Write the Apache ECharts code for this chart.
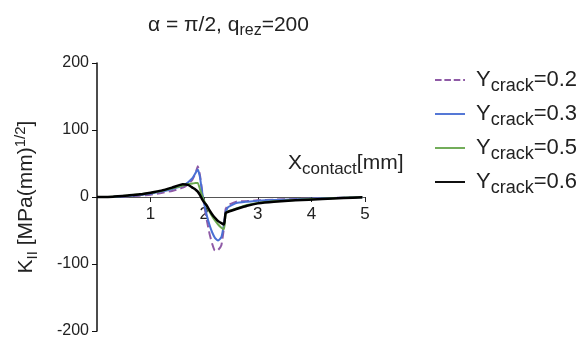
<!DOCTYPE html>
<html><head><meta charset="utf-8">
<script src="https://cdn.jsdelivr.net/npm/echarts@6/dist/echarts.min.js"></script>
<style>html,body{margin:0;padding:0;background:#fff}#c{width:584px;height:342px}</style>
</head><body><div id="c"></div>
<script>
const xs  = [0, 0.3, 0.6, 0.8, 1.0, 1.2, 1.4, 1.6, 1.7, 1.78, 1.84, 1.88, 1.92, 1.96, 2.0, 2.05, 2.1, 2.15, 2.2, 2.26, 2.32, 2.37, 2.4, 2.45, 2.6, 2.8, 3.0, 3.3, 3.7, 4.2, 4.6, 4.95];
const y02 = [0, 0.2, 1, 2, 3.5, 6, 9, 14, 19, 26, 36, 46, 33, 10, -12, -35, -55, -70, -80, -79, -72, -45, -18, -12, -7, -6, -5, -4, -3, -2, -1, -0.3];
const y03 = [0, 0.3, 1.5, 3, 5, 8, 12, 17, 22, 28, 36, 41, 30, 8, -10, -28, -42, -53, -61, -65, -60, -40, -22, -15, -9, -7, -5.5, -4.5, -3.5, -2, -1, -0.3];
const y05 = [0, 0.5, 2.5, 4, 6, 9, 13, 17, 19, 20, 21, 21, 12, 2, -6, -14, -22, -29, -35, -41, -46, -48, -24, -21, -17, -12, -9, -6.5, -4.5, -2.5, -1.2, -0.4];
const y06 = [0, 0.5, 2.5, 4, 6.5, 9.5, 14, 19, 18, 14, 11, 8, 3, -3, -8, -13, -20, -26, -31, -36, -39, -41, -24, -22, -18, -13, -9.5, -7, -5, -3, -1.5, -0.5];
const labels = ['0.2', '0.3', '0.5', '0.6'];
const xTicks = [1, 2, 3, 4, 5];
const yTicks = [-200, -100, 0, 100, 200];
const colors = ['#8f5aa6', '#4a6fd4', '#6aa84f', '#000000'];
const widths = [2, 2, 2, 2.5];
const dashes = ['dashed', 'solid', 'solid', 'solid'];
const seriesY = [y02, y03, y05, y06];

const chart = echarts.init(document.getElementById('c'));
const font = 'Liberation Sans, Arial, sans-serif';
const solidIcon = 'path://M0,0h32v2h-32z';
const dashIcon = 'path://M0,0h7v2h-7zM10,0h7v2h-7zM20,0h7v2h-7zM30,0h2v2h-2z';
const series = seriesY.map((ys, i) => ({
  name: labels[i],
  type: 'line',
  data: xs.map((x, j) => [x, ys[j]]),
  showSymbol: false,
  symbol: 'none',
  smooth: 0.15,
  lineStyle: { color: colors[i], width: widths[i], type: dashes[i] },
  itemStyle: { color: colors[i] },
  z: 2 + i
}));
chart.setOption({
  animation: false,
  title: {
    text: '{a|α = π/2, q}{b|rez}{a|=200}',
    left: 143, top: 6,
    textStyle: {
      rich: {
        a: { fontSize: 21, fontFamily: font, fontWeight: 'normal', color: '#222' },
        b: { fontSize: 16, fontFamily: font, fontWeight: 'normal', color: '#222', padding: [12, 0, 0, 0] }
      }
    }
  },
  legend: {
    orient: 'vertical',
    left: 430, top: 64,
    itemWidth: 30, itemHeight: 2.5, itemGap: 8,
    data: labels.map((n, i) => ({ name: n, icon: i === 0 ? dashIcon : solidIcon, itemStyle: { color: colors[i] } })),
    formatter: n => '{a|Y}{b|crack}{a|=' + n + '}',
    textStyle: {
      padding: [0, 0, 0, 6],
      rich: {
        a: { fontSize: 22, fontFamily: font, color: '#222', lineHeight: 28 },
        b: { fontSize: 18, fontFamily: font, color: '#222', padding: [12, 0, 0, 0] }
      }
    }
  },
  grid: { left: 97, right: 219, top: 63, bottom: 11 },
  xAxis: {
    type: 'value', min: 0, max: 5, interval: 1,
    offset: -134,
    axisLine: { onZero: false, lineStyle: { color: '#555', width: 1 } },
    axisTick: { show: true, length: 5, customValues: xTicks, lineStyle: { color: '#222' } },
    axisLabel: { customValues: xTicks, fontSize: 17, fontFamily: font, color: '#222', margin: 9 },
    splitLine: { show: false }
  },
  yAxis: {
    type: 'value', min: -200, max: 200, interval: 100,
    name: '{a|K}{b|II}{a| [MPa(mm)}{c|1/2}{a|]}',
    nameLocation: 'middle', nameRotate: 90, nameGap: 57,
    nameTextStyle: {
      rich: {
        a: { fontSize: 21, fontFamily: font, color: '#222' },
        b: { fontSize: 15, fontFamily: font, color: '#222', padding: [12, 0, 0, 0] },
        c: { fontSize: 15, fontFamily: font, color: '#222', padding: [0, 0, 12, 0] }
      }
    },
    axisLine: { show: true, onZero: false, lineStyle: { color: '#111', width: 1.5 } },
    axisTick: { show: true, length: 5, customValues: yTicks, lineStyle: { color: '#111' } },
    axisLabel: { customValues: yTicks, fontSize: 16, fontFamily: font, color: '#222', margin: 8 },
    splitLine: { show: false }
  },
  graphic: [{
    type: 'text', left: 288, top: 153,
    style: {
      text: '{a|X}{b|contact}{a|[mm]}',
      rich: {
        a: { fontSize: 21, fontFamily: font, fill: '#222' },
        b: { fontSize: 17, fontFamily: font, fill: '#222', padding: [12, 0, 0, 0] }
      }
    }
  }],
  series: series
});
</script></body></html>
